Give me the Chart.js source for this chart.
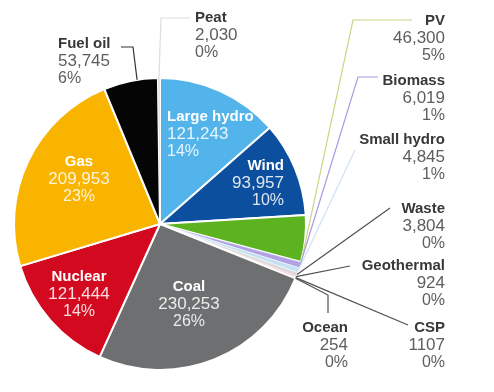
<!DOCTYPE html>
<html><head><meta charset="utf-8">
<script src="https://cdn.jsdelivr.net/npm/chart.js@4.4.1/dist/chart.umd.min.js"></script>
<style>html,body{margin:0;padding:0;background:#fff;}canvas{display:block}</style>
</head><body>
<canvas id="c" width="494" height="392"></canvas>
<script>
// ---- data ----
const categories = ['Large hydro','Wind','PV','Biomass','Small hydro','Waste','Geothermal','CSP','Ocean','Coal','Nuclear','Gas','Fuel oil','Peat'];
const capacityMW = [121243,93957,46300,6019,4845,3804,924,1107,254,230253,121444,209953,53745,2030];
const valueLabels = ['121,243','93,957','46,300','6,019','4,845','3,804','924','1107','254','230,253','121,444','209,953','53,745','2,030'];
const percentLabels = ['14%','10%','5%','1%','1%','0%','0%','0%','0%','26%','14%','23%','6%','0%'];

// ---- style ----
const sliceColors = ['#52b4ea','#0c4f9e','#5cb31f','#b1a3e3','#c3e0f4','#d9d9d9','#f0b3c6','#f3d48c','#f4c4d2','#6e6f71','#d30a1f','#f9b400','#050505','#e2e2e2'];
const borderWidths = [2,2,2,0.5,0.5,0.5,0.3,0.3,0.2,2,2,2,2,0.3];
// label layout: x, y of first line, alignment, inside?, leader (fraction along arc, then points), line colour
const labelLayout = [
  {x:167,y:117,align:'left',inside:true},
  {x:284,y:166,align:'right',inside:true},
  {x:445,y:21,align:'right',frac:0.85,pts:[[353,20],[412,20]],lc:'#ccd483'},
  {x:445,y:81,align:'right',frac:0.5,pts:[[358,77],[378,77]],lc:'#a99be0'},
  {x:445,y:140,align:'right',frac:0.5,pts:[[355,150]],lc:'#cfe2f2'},
  {x:445,y:209,align:'right',frac:0.5,pts:[[390,208]],lc:'#505050'},
  {x:445,y:266,align:'right',frac:0.5,pts:[[350,266]],lc:'#505050'},
  {x:445,y:328,align:'right',frac:0.5,pts:[[408,325]],lc:'#505050'},
  {x:348,y:328,align:'right',frac:0.5,pts:[[328,295],[328,313]],lc:'#505050'},
  {x:189,y:287,align:'center',inside:true},
  {x:79,y:277,align:'center',inside:true},
  {x:79,y:162,align:'center',inside:true},
  {x:58,y:44,align:'left',frac:0.62,pts:[[133,47],[121,47]],lc:'#333333'},
  {x:195,y:18,align:'left',frac:0.5,pts:[[161,18],[190,18]],lc:'#dddddd'}
];

const labelPlugin = {
  id:'labels',
  afterDatasetsDraw(chart){
    const ctx = chart.ctx;
    const meta = chart.getDatasetMeta(0);
    ctx.save();
    labelLayout.forEach((L,i)=>{
      const arc = meta.data[i];
      if (L.pts){
        const a = arc.startAngle + L.frac*(arc.endAngle-arc.startAngle);
        const r = arc.outerRadius;
        ctx.beginPath();
        ctx.moveTo(arc.x+Math.cos(a)*r, arc.y+Math.sin(a)*r);
        L.pts.forEach(p=>ctx.lineTo(p[0],p[1]));
        ctx.strokeStyle = L.lc; ctx.lineWidth = 1.2; ctx.stroke();
      }
      ctx.textAlign = L.align; ctx.textBaseline = 'middle';
      ctx.font = 'bold 15px "Liberation Sans", Arial, sans-serif';
      ctx.fillStyle = L.inside ? '#ffffff' : '#383838';
      ctx.fillText(categories[i], L.x, L.y);
      ctx.font = '17px "Liberation Sans", Arial, sans-serif';
      ctx.fillStyle = L.inside ? 'rgba(255,255,255,0.86)' : '#5e5e5e';
      ctx.fillText(valueLabels[i], L.x, L.y+17.5);
      ctx.font = '16px "Liberation Sans", Arial, sans-serif';
      ctx.fillText(percentLabels[i], L.x, L.y+35);
    });
    ctx.restore();
  }
};

new Chart(document.getElementById('c'), {
  type:'pie',
  data:{labels:categories, datasets:[{data:capacityMW, backgroundColor:sliceColors, borderColor:'#ffffff', borderWidth:borderWidths}]},
  options:{
    responsive:false, animation:false,
    layout:{padding:{left:13,right:187,top:77,bottom:21}},
    plugins:{legend:{display:false},tooltip:{enabled:false}}
  },
  plugins:[labelPlugin]
});
</script>
</body></html>
